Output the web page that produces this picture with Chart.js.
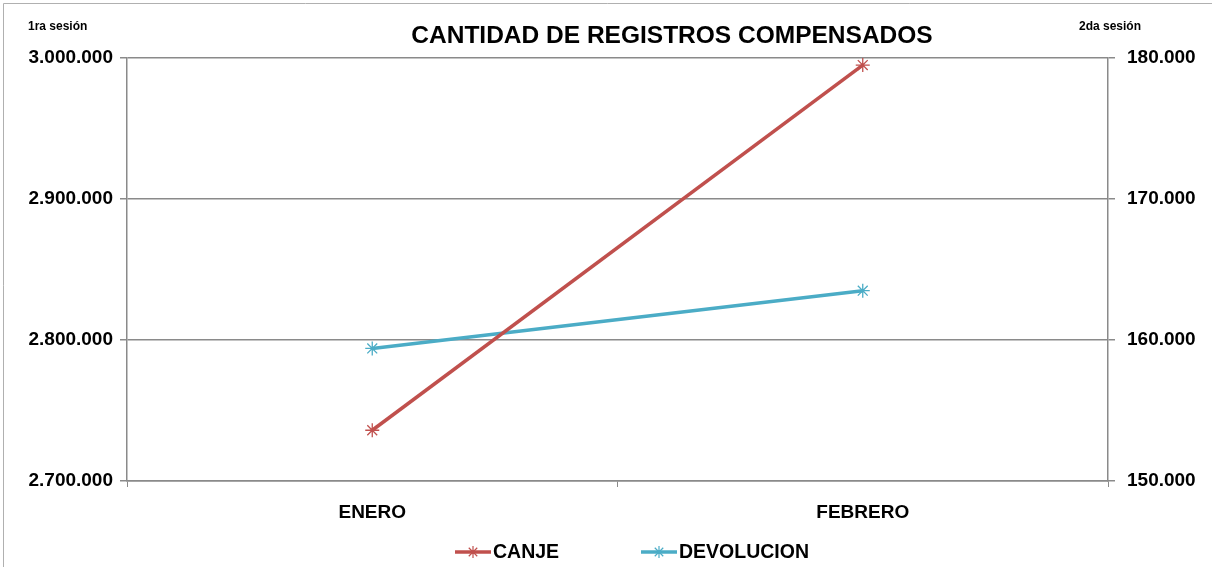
<!DOCTYPE html>
<html lang="es">
<head>
<meta charset="utf-8">
<title>Cantidad de registros compensados</title>
<script src="https://cdn.jsdelivr.net/npm/chart.js@4/dist/chart.umd.min.js"></script>
<style>
  html, body { margin: 0; padding: 0; background: #fff; }
  #wrap { width: 1212px; height: 567px; }
</style>
</head>
<body>
<div id="wrap"><canvas id="grafico" width="1212" height="567"></canvas></div>
<script>
// Datos
const meses = ['ENERO', 'FEBRERO'];
const canje = [2736000, 2995000];       // eje izquierdo (1ra sesión)
const devolucion = [159400, 163500];    // eje derecho (2da sesión)
const ejeIzq = { min: 2700000, max: 3000000, paso: 100000 };
const ejeDer = { min: 150000, max: 180000, paso: 10000 };

const ROJO = '#C0504D';
const AZUL = '#4BACC6';
const GRIS = '#8a8a8a';
const FUENTE = "'Liberation Sans', Arial, sans-serif";

// 3000000 -> "3.000.000"
function conPuntos(v) {
    return String(Math.round(v)).replace(/\B(?=(\d{3})+(?!\d))/g, '.');
}

// Marco, títulos y leyenda dibujados a mano
const extras = {
    id: 'extras',
    afterDraw(chart) {
        const ctx = chart.ctx;
        ctx.save();

        // marco exterior (solo arriba e izquierda se ven)
        ctx.strokeStyle = '#b0b0b0';
        ctx.lineWidth = 1;
        ctx.beginPath();
        ctx.moveTo(3.5, chart.height);
        ctx.lineTo(3.5, 3.5);
        ctx.lineTo(chart.width, 3.5);
        ctx.stroke();

        ctx.fillStyle = '#000';
        ctx.textBaseline = 'middle';
        ctx.textAlign = 'center';
        ctx.font = 'bold 24.5px ' + FUENTE;
        ctx.fillText('CANTIDAD DE REGISTROS COMPENSADOS', 672, 36);

        ctx.font = 'bold 12px ' + FUENTE;
        ctx.textAlign = 'left';
        ctx.fillText('1ra sesión', 28, 27);
        ctx.fillText('2da sesión', 1079, 27);

        // leyenda: línea + asterisco + texto
        const items = [
            { x: 455, idx: 0 },
            { x: 641, idx: 1 }
        ];
        const yLey = 552;
        ctx.font = 'bold 19.5px ' + FUENTE;
        items.forEach(it => {
            const ds = chart.data.datasets[it.idx];
            ctx.strokeStyle = ds.borderColor;
            ctx.lineWidth = 3.5;
            ctx.beginPath();
            ctx.moveTo(it.x, yLey);
            ctx.lineTo(it.x + 36, yLey);
            ctx.stroke();
            ctx.lineWidth = 1.2;
            const cx = it.x + 18, r = 6;
            ctx.beginPath();
            for (let k = 0; k < 4; k++) {
                const a = k * Math.PI / 4;
                ctx.moveTo(cx - r * Math.cos(a), yLey - r * Math.sin(a));
                ctx.lineTo(cx + r * Math.cos(a), yLey + r * Math.sin(a));
            }
            ctx.stroke();
            ctx.fillStyle = '#000';
            ctx.fillText(ds.label, it.x + 38, yLey + 1);
        });

        ctx.restore();
    }
};

new Chart(document.getElementById('grafico'), {
    type: 'line',
    data: {
        labels: meses,
        datasets: [
            {
                label: 'CANJE',
                data: canje,
                yAxisID: 'yIzq',
                borderColor: ROJO,
                backgroundColor: ROJO,
                borderWidth: 3.5,
                pointStyle: 'star',
                pointRadius: 7,
                pointBorderWidth: 1.3,
                pointBorderColor: ROJO,
                tension: 0
            },
            {
                label: 'DEVOLUCION',
                data: devolucion,
                yAxisID: 'yDer',
                borderColor: AZUL,
                backgroundColor: AZUL,
                borderWidth: 3.5,
                pointStyle: 'star',
                pointRadius: 7,
                pointBorderWidth: 1.3,
                pointBorderColor: AZUL,
                tension: 0
            }
        ]
    },
    options: {
        responsive: false,
        animation: false,
        layout: { padding: { top: 58, left: 0, right: 0, bottom: 0 } },
        plugins: {
            legend: { display: false },
            title: { display: false },
            tooltip: { enabled: false }
        },
        scales: {
            x: {
                offset: true,
                grid: {
                    offset: true,
                    drawOnChartArea: false,
                    drawTicks: true,
                    tickLength: 6,
                    color: GRIS
                },
                border: { display: true, color: GRIS, width: 1.5 },
                ticks: {
                    color: '#000',
                    padding: 14,
                    font: { family: FUENTE, size: 19, weight: 'bold' }
                },
                afterFit(scale) { scale.height = 86; }
            },
            yIzq: {
                position: 'left',
                min: ejeIzq.min,
                max: ejeIzq.max,
                grid: { color: GRIS, lineWidth: 1.5, tickLength: 7 },
                border: { display: true, color: GRIS, width: 1.5 },
                ticks: {
                    stepSize: ejeIzq.paso,
                    color: '#000',
                    padding: 7,
                    font: { family: FUENTE, size: 19, weight: 'bold' },
                    callback: v => conPuntos(v)
                },
                afterFit(scale) { scale.width = 127; }
            },
            yDer: {
                position: 'right',
                min: ejeDer.min,
                max: ejeDer.max,
                grid: { drawOnChartArea: false, color: GRIS, lineWidth: 1.5, tickLength: 7 },
                border: { display: true, color: GRIS, width: 1.5 },
                ticks: {
                    stepSize: ejeDer.paso,
                    color: '#000',
                    padding: 12,
                    font: { family: FUENTE, size: 19, weight: 'bold' },
                    callback: v => conPuntos(v)
                },
                afterFit(scale) { scale.width = 104; }
            }
        }
    },
    plugins: [extras]
});
</script>
</body>
</html>
